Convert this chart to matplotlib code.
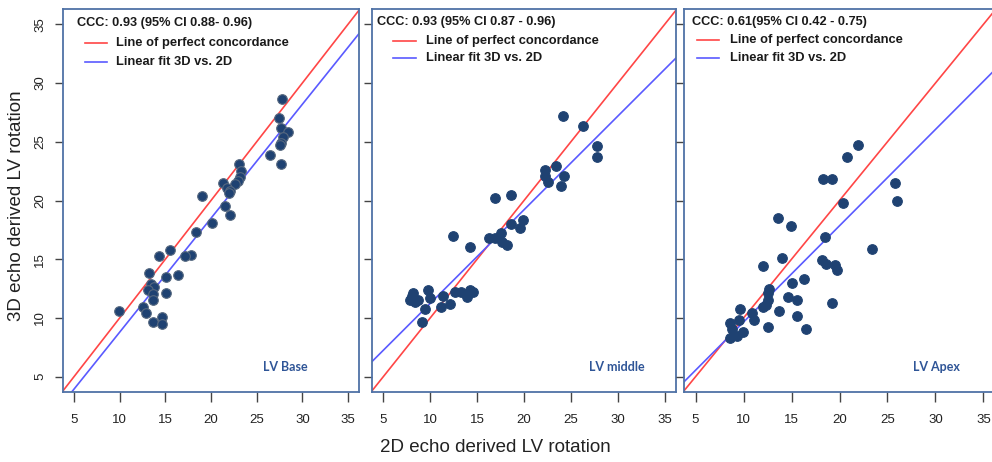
import numpy as np
import matplotlib
matplotlib.use('Agg')
import matplotlib.pyplot as plt
from matplotlib.transforms import ScaledTranslation

plt.rcParams['font.family'] = ['Liberation Sans', 'DejaVu Sans']

# values (2D rotation, 3D rotation)
base_x = [27.8, 27.4, 27.7, 28.4, 27.9, 27.7, 27.5, 26.5, 27.7,
          23.1, 23.3, 23.2, 23.0, 22.6, 21.3, 21.8, 22.1, 22.0,
          19.0, 21.5, 22.1, 20.1, 18.4, 17.8, 17.1, 16.4, 15.5, 14.3, 13.2, 15.1,
          13.4, 13.8, 13.1, 13.7, 13.7, 15.1, 12.6, 12.9, 9.9, 13.7, 14.6, 14.6]
base_y = [28.6, 27.0, 26.2, 25.8, 25.4, 24.9, 24.7, 23.9, 23.1,
          23.1, 22.5, 22.0, 21.7, 21.4, 21.5, 21.1, 20.8, 20.6,
          20.4, 19.5, 18.8, 18.1, 17.3, 15.4, 15.3, 13.7, 15.8, 15.3, 13.8, 13.5,
          12.9, 12.6, 12.4, 12.0, 11.5, 12.1, 10.9, 10.4, 10.6, 9.7, 10.1, 9.5]

mid_x = [24.2, 26.3, 27.8, 27.8, 23.4, 22.2, 22.2, 22.6, 24.3, 23.9,
         16.9, 18.6, 18.6, 19.9, 19.6, 12.4, 14.2, 16.3, 16.9, 17.5, 17.7, 18.2,
         8.2, 7.8, 8.4, 8.7, 8.1, 9.8, 10.0, 9.4, 11.4, 11.2, 12.1, 12.6, 13.3,
         13.9, 14.6, 14.2, 9.1]
mid_y = [27.2, 26.3, 24.6, 23.7, 22.9, 22.6, 22.1, 21.6, 22.1, 21.2,
         20.2, 20.5, 18.0, 18.3, 17.7, 17.0, 16.0, 16.8, 16.8, 17.2, 16.5, 16.2,
         12.1, 11.5, 11.4, 11.5, 11.9, 12.4, 11.7, 10.8, 11.9, 10.9, 11.2, 12.2, 12.2,
         11.8, 12.2, 12.4, 9.7]

apex_x = [21.9, 20.8, 18.3, 19.2, 20.4, 25.8, 26.0, 13.6, 14.9, 18.5, 23.4,
          14.0, 12.0, 18.2, 18.6, 19.5, 19.7, 16.3, 15.1, 12.7, 12.6, 12.5, 12.3,
          12.0, 14.6, 15.6, 13.7, 15.6, 19.2, 16.5, 12.5, 9.6, 10.9, 11.1, 8.6,
          9.5, 8.8, 9.9, 8.6, 9.3]
apex_y = [24.7, 23.7, 21.8, 21.8, 19.8, 21.5, 20.0, 18.5, 17.8, 16.9, 15.9,
          15.1, 14.4, 14.9, 14.6, 14.5, 14.1, 13.3, 13.0, 12.5, 12.1, 11.5, 11.1,
          10.9, 11.8, 11.5, 10.6, 10.2, 11.3, 9.1, 9.2, 10.8, 10.4, 9.8, 9.6,
          9.8, 9.1, 8.8, 8.3, 8.5]

# linear fit 3D vs 2D (slope, intercept) as drawn
fit_slope = [0.970, 0.7975, 0.82]
fit_icpt = [-0.91, 3.26, 1.45]

ccc_labels = ['CCC: 0.93 (95% CI 0.88- 0.96)', 'CCC: 0.93 (95% CI 0.87 - 0.96)',
              'CCC: 0.61(95% CI 0.42 - 0.75)']
region_labels = ['LV Base', 'LV middle', 'LV Apex']
ticks = [5, 10, 15, 20, 25, 30, 35]

W, H = 992, 462
fig = plt.figure(figsize=(W / 100, H / 100), dpi=100)

# axes boxes in pixels: left, top, width, height
boxes = [(63, 9, 296, 383), (372, 9, 304, 383), (684, 9, 311, 383)]
# legend offsets in pixels: ccc x, ccc y, line x0, line x1, text x, row1 y, row2 y
leg = [(14, 14, 22, 44, 53, 33.7, 52.7),
       (5, 12.7, 21, 44, 54, 31.7, 49.3),
       (8, 12.7, 13, 35, 46, 31, 49.3)]
region_pos = [(28.1, 5.85), (29.9, 5.85), (30.15, 5.85)]

series = [(base_x, base_y), (mid_x, mid_y), (apex_x, apex_y)]
lim = (3.8, 36.2)

for i, (xs, ys) in enumerate(series):
    l, t, w, h = boxes[i]
    ax = fig.add_axes([l / W, 1 - (t + h) / H, w / W, h / H])
    ax.set_xlim(*lim)
    ax.set_ylim(3.7, 36.3)

    edge = '#56687f' if i == 0 else '#1f4272'
    ax.scatter(xs, ys, s=48, color='#1f4272', edgecolors=edge, linewidths=0.8, zorder=3)

    line_x = np.array([3.0, 37.0])
    ax.plot(line_x, line_x, color='#ff4646', lw=1.2, zorder=2)
    ax.plot(line_x, fit_slope[i] * line_x + fit_icpt[i], color='#5a5aff', lw=1.2, zorder=2)

    for sp in ax.spines.values():
        sp.set_color('#4f72a6')
        sp.set_linewidth(1.3)

    ax.set_xticks(ticks)
    ax.set_yticks(ticks)
    ax.tick_params(axis='x', direction='out', length=7, width=1, color='#444444',
                   labelsize=9.5, pad=9, labelcolor='#222222')
    ax.tick_params(axis='y', direction='out', length=6, width=1, color='#444444',
                   labelsize=9.5, pad=6, labelcolor='#222222', labelrotation=90)
    if i > 0:
        ax.set_yticklabels([])
    else:
        for lab in ax.get_yticklabels():
            lab.set_verticalalignment('center')

    # legend block
    cx, cy, lx0, lx1, tx, r1, r2 = leg[i]

    def off(dx, dy):
        return ax.transAxes + ScaledTranslation(dx / 100, -dy / 100, fig.dpi_scale_trans)

    ax.text(0, 1, ccc_labels[i], transform=off(cx, cy), fontsize=9.2, fontweight='bold',
            color='#1a1a1a', ha='left', va='center')
    ax.plot([0, (lx1 - lx0) / w], [1, 1], transform=off(lx0, r1), color='#ff4646', lw=1.2)
    ax.plot([0, (lx1 - lx0) / w], [1, 1], transform=off(lx0, r2), color='#5a5aff', lw=1.2)
    ax.text(0, 1, 'Line of perfect concordance', transform=off(tx, r1), fontsize=9.3,
            fontweight='bold', color='#1a1a1a', ha='left', va='center')
    ax.text(0, 1, 'Linear fit 3D vs. 2D', transform=off(tx, r2), fontsize=9.3,
            fontweight='bold', color='#1a1a1a', ha='left', va='center')

    rx, ry = region_pos[i]
    ax.text(rx, ry, region_labels[i], fontsize=9, fontweight='bold', color='#2f5597',
            family=['Lato', 'DejaVu Sans'], ha='center', va='center')

fig.text(17 / W, 1 - 206 / H, '3D echo derived LV rotation', rotation=90, fontsize=13.5,
         ha='center', va='center', color='#222222')
fig.text(495 / W, 1 - 447 / H, '2D echo derived LV rotation', fontsize=13.5,
         ha='center', va='center', color='#222222')

fig.savefig('out.png', dpi=100)
